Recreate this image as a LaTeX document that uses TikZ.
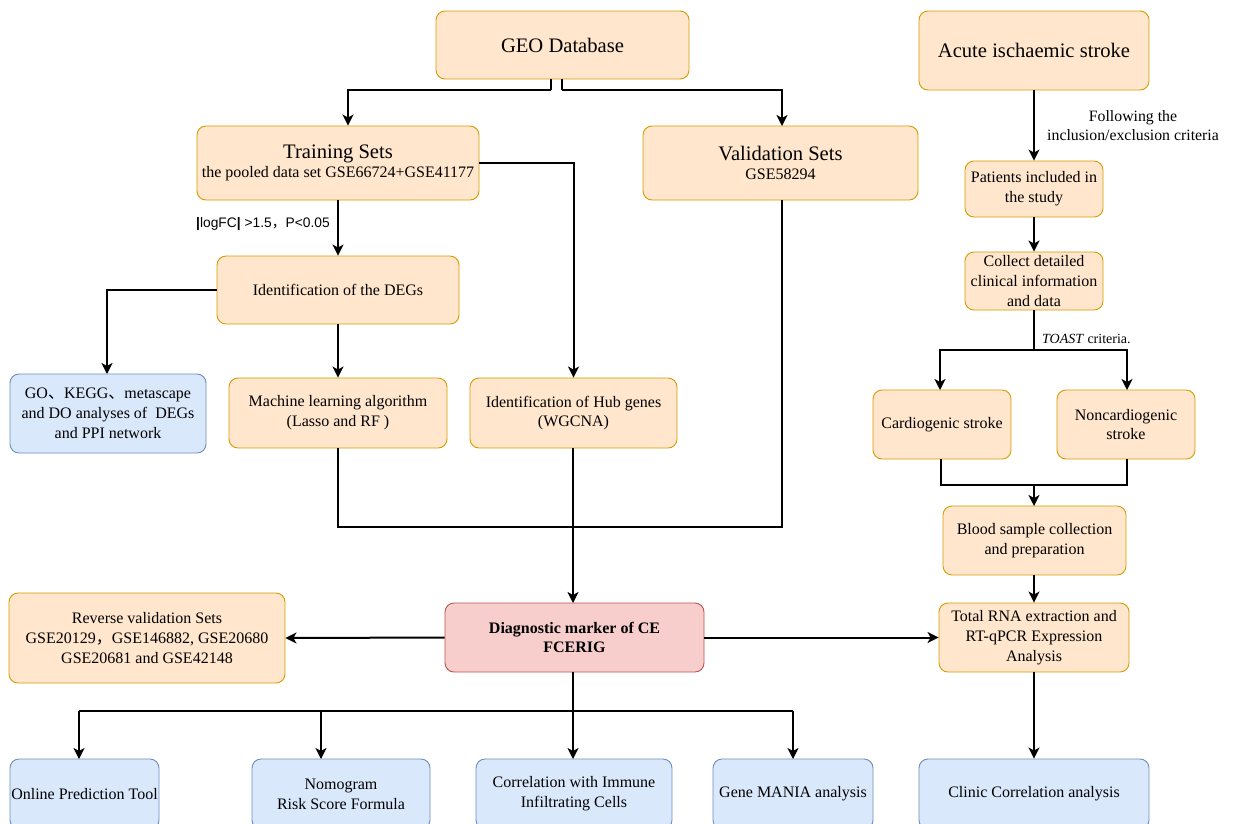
\documentclass[tikz,border=0pt]{standalone}
\usepackage{fontspec}
\setmainfont{Liberation Serif}
\newfontfamily\cjk{Noto Sans CJK SC}
\newfontfamily\arial{Liberation Sans}
\usetikzlibrary{arrows.meta,calc}
\definecolor{ofill}{HTML}{FFE6CC}
\definecolor{ostroke}{HTML}{D79B00}
\definecolor{bfill}{HTML}{DAE8FC}
\definecolor{bstroke}{HTML}{6C8EBF}
\definecolor{rfill}{HTML}{F8CECC}
\definecolor{rstroke}{HTML}{B85450}
\tikzset{
  box/.style={draw=ostroke, fill=ofill, rounded corners=9pt, line width=0.9pt, inner sep=0pt, align=center,
    font=\fontsize{16}{19.8}\selectfont},
  bbox/.style={box, draw=bstroke, fill=bfill},
  rbox/.style={box, draw=rstroke, fill=rfill, font=\fontsize{16}{19.5}\selectfont\bfseries},
  big/.style={font=\fontsize{20.6}{24}\selectfont},
  conn/.style={line width=2pt, draw=black},
  arr/.style={conn, -{Stealth[length=11pt,width=11pt,inset=3pt]}},
  lab/.style={inner sep=0pt, align=center, font=\fontsize{15.8}{19}\selectfont}
}
\begin{document}
\begin{tikzpicture}[x=1pt,y=-1pt]
\useasboundingbox (0,0) rectangle (1233,823);
\begin{scope}
\clip (0,0) rectangle (1233,823);
% nodes
\node[box, big, minimum width=253pt, minimum height=68pt] (geo) at (562.5,45) {GEO Database};
\node[box, big, minimum width=230pt, minimum height=79pt] (acute) at (1034,50.5) {Acute ischaemic stroke};
\node[box, minimum width=282pt, minimum height=74pt] (train) at (338,163)
  {{\fontsize{20.6}{22}\selectfont Training Sets}\\[-1pt]the pooled data set GSE66724+GSE41177};
\node[box, minimum width=275pt, minimum height=74pt] (valid) at (780.5,163)
  {{\fontsize{20.6}{22}\selectfont Validation Sets}\\[-1pt]GSE58294};
\node[box, minimum width=242pt, minimum height=68pt] (degs) at (338,290) {Identification of the DEGs};
\node[bbox, minimum width=196pt, minimum height=79pt] (go) at (108,413.5)
  {GO{\cjk 、}KEGG{\cjk 、}metascape\\and DO analyses of\ \ DEGs\\and PPI network};
\node[box, minimum width=218pt, minimum height=70pt] (ml) at (338,413)
  {Machine learning algorithm\\(Lasso and RF )};
\node[box, minimum width=207pt, minimum height=70pt] (hub) at (573.5,413)
  {Identification of Hub genes\\(WGCNA)};
\node[box, minimum width=138pt, minimum height=56pt] (pat) at (1034,189)
  {Patients included in\\the study};
\node[box, minimum width=138pt, minimum height=58pt] (coll) at (1034,281)
  {Collect detailed\\clinical information\\and data};
\node[box, minimum width=138pt, minimum height=69pt] (card) at (942,424.5) {Cardiogenic stroke};
\node[box, minimum width=138pt, minimum height=69pt] (nonc) at (1126,424.5) {Noncardiogenic\\stroke};
\node[box, minimum width=183pt, minimum height=69pt] (blood) at (1034.5,540.5)
  {Blood sample collection\\and preparation};
\node[box, minimum width=190pt, minimum height=69pt] (rna) at (1034,637.5)
  {Total RNA extraction and\\RT-qPCR Expression\\Analysis};
\node[box, minimum width=276pt, minimum height=90pt] (rev) at (147,638)
  {Reverse validation Sets\\GSE20129{\cjk ，}GSE146882, GSE20680\\GSE20681 and GSE42148};
\node[rbox, minimum width=259pt, minimum height=69pt] (diag) at (574.5,637.5)
  {Diagnostic marker of CE\\FCERIG};
\node[bbox, minimum width=149pt, minimum height=70pt] (online) at (84.5,794) {Online Prediction Tool};
\node[bbox, minimum width=178pt, minimum height=70pt] (nomo) at (341,794) {Nomogram\\Risk Score Formula};
\node[bbox, minimum width=196pt, minimum height=70pt] (corr) at (574,794) {Correlation with Immune\\Infiltrating Cells};
\node[bbox, minimum width=160pt, minimum height=70pt] (gene) at (793,794) {Gene MANIA analysis};
\node[bbox, minimum width=230pt, minimum height=70pt] (clinic) at (1034,794) {Clinic Correlation analysis};
% labels
\node[lab, anchor=west, font=\arial\fontsize{13.8}{15}\selectfont] (lfc) at (196,224)
  {\textbf{|}logFC\textbf{|} >1.5{\cjk ，}P<0.05};
\node[lab] (incl) at (1133,125.5) {Following the\\inclusion/exclusion criteria};
\node[lab, anchor=west, font=\fontsize{14}{16}\selectfont] (toast) at (1042,339) {\textit{TOAST} criteria.};
% connectors
\coordinate (gl) at (551,90);
\coordinate (gr) at (562,90);
\draw[conn] (gl |- geo.south) -- (gl);
\draw[arr] (gl) -| ([xshift=10pt]train.north);
\draw[conn] (gr |- geo.south) -- (gr);
\draw[arr] (gr) -| (782,126);
\draw[arr] (train.south) -- (degs.north);
\draw[arr] (train.east) -| (hub.north);
\draw[arr] (degs.west) -| (107,374);
\draw[arr] (degs.south) -- (ml.north);
\coordinate (mj) at (573,527);
\draw[conn] (ml.south) |- (mj);
\draw[conn] (782,200) |- (mj);
\draw[arr] (573,448) -- (573,603);
% right side
\draw[arr] (acute.south) -- (pat.north);
\draw[arr] (pat.south) -- (coll.north);
\coordinate (tj) at (1034,350);
\draw[conn] (coll.south) -- (tj);
\draw[arr] (tj) -| (940,390);
\draw[arr] (tj) -| (1127,390);
\coordinate (cj) at (1034,485);
\draw[conn] (941,459) |- (cj);
\draw[conn] (1127,459) |- (cj);
\draw[arr] (cj) -- (1034,506);
\draw[arr] (blood.south -| 1034,0) -- (rna.north);
\draw[arr] (rna.south) -- (clinic.north);
% diagnostic
\draw[arr] (diag.west) -- (rev.east);
\draw[arr] (diag.east) -- (rna.west);
\coordinate (dj) at (573,711);
\draw[conn] (573,672) -- (dj);
\draw[conn] (79,711) -- (793,711);
\draw[arr] (79,711) -- (79,759);
\draw[arr] (321,711) -- (321,759);
\draw[arr] (dj) -- (573,759);
\draw[arr] (793,711) -- (793,759);
\end{scope}
\end{tikzpicture}
\end{document}
